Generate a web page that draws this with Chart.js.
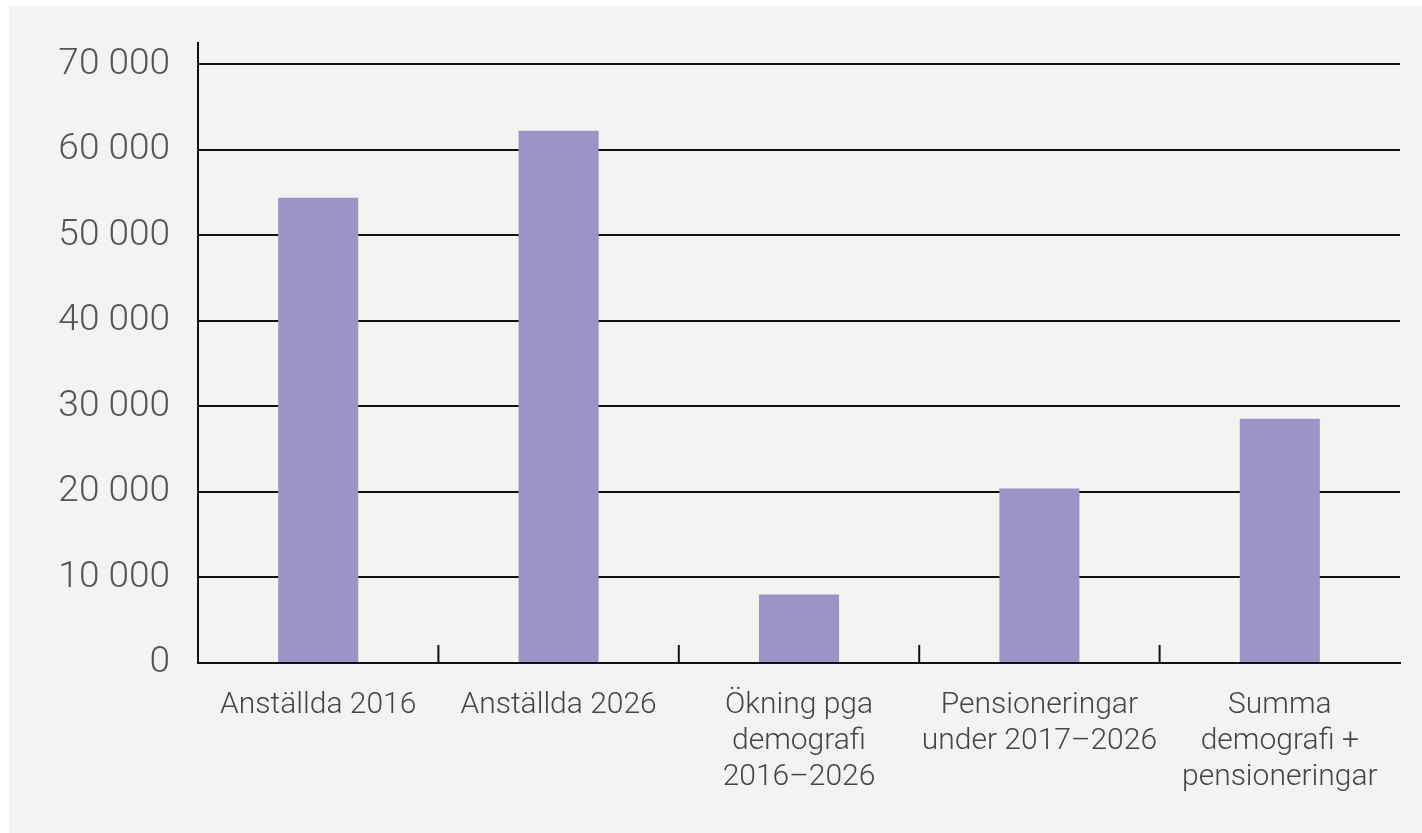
<!DOCTYPE html>
<html>
<head>
    <title>Anställda och pensioneringar</title>
    <style>
        body { margin: 0; background: #ffffff; }
        #wrap { position: absolute; left: 9px; top: 6px; width: 1413px; height: 827px; background: #f4f3f1; }
    </style>
</head>
<body>
    <div id="wrap">
        <canvas id="staffChart" width="1413" height="827"></canvas>
    </div>

    <script src="https://cdn.jsdelivr.net/npm/chart.js"></script>
    <script>
        // categories (multi-line labels) and values
        const categories = [
            ['Anställda 2016'],
            ['Anställda 2026'],
            ['Ökning pga', 'demografi', '2016–2026'],
            ['Pensioneringar', 'under 2017–2026'],
            ['Summa', 'demografi +', 'pensioneringar']
        ];
        const values = [54400, 62250, 8000, 20400, 28550];
        const yTickValues = [0, 10000, 20000, 30000, 40000, 50000, 60000, 70000];
        const yAxisTop = 72500; // axis line runs a bit above the last gridline

        function formatThousands(v) {
            return String(v).replace(/\B(?=(\d{3})+(?!\d))/g, ' ');
        }

        // small upward tick marks between categories on the x axis
        const boundaryTicks = {
            id: 'boundaryTicks',
            afterDraw(chart) {
                const x = chart.scales.x;
                const ctx = chart.ctx;
                const bottom = chart.chartArea.bottom;
                ctx.save();
                ctx.strokeStyle = '#111';
                ctx.lineWidth = 2;
                for (let i = 1; i < categories.length; i++) {
                    const px = (x.getPixelForTick(i - 1) + x.getPixelForTick(i)) / 2;
                    ctx.beginPath();
                    ctx.moveTo(px, bottom - 18);
                    ctx.lineTo(px, bottom);
                    ctx.stroke();
                }
                ctx.restore();
            }
        };

        const ctx = document.getElementById('staffChart').getContext('2d');
        const chart = new Chart(ctx, {
            type: 'bar',
            data: {
                labels: categories,
                datasets: [{
                    data: values,
                    backgroundColor: '#9b94c5',
                    borderWidth: 0,
                    categoryPercentage: 1,
                    barPercentage: 0.333
                }]
            },
            options: {
                responsive: false,
                animation: false,
                layout: { padding: { top: 37, right: 22, left: 0, bottom: 0 } },
                plugins: {
                    legend: { display: false },
                    tooltip: { enabled: false }
                },
                scales: {
                    x: {
                        afterFit: (scale) => { scale.height = 170; },
                        grid: { display: false, drawTicks: false },
                        border: { display: true, color: '#111', width: 2 },
                        ticks: {
                            padding: 24,
                            color: '#454545',
                            maxRotation: 0,
                            autoSkip: false,
                            font: { family: 'Roboto', size: 30, weight: 300, lineHeight: 1.2 }
                        }
                    },
                    y: {
                        min: 0,
                        max: yAxisTop,
                        afterFit: (scale) => { scale.width = 189; },
                        afterBuildTicks: (scale) => { scale.ticks = yTickValues.map(v => ({ value: v })); },
                        grid: { color: '#111', lineWidth: 2, drawTicks: false },
                        border: { display: true, color: '#111', width: 2 },
                        ticks: {
                            padding: 28,
                            color: '#555',
                            // small lineHeight keeps the label box from pushing the plot down
                            font: { family: 'Roboto', size: 37, weight: 300, lineHeight: 0.4 },
                            callback: (v) => formatThousands(v)
                        }
                    }
                }
            },
            plugins: [boundaryTicks]
        });
    </script>
</body>
</html>
